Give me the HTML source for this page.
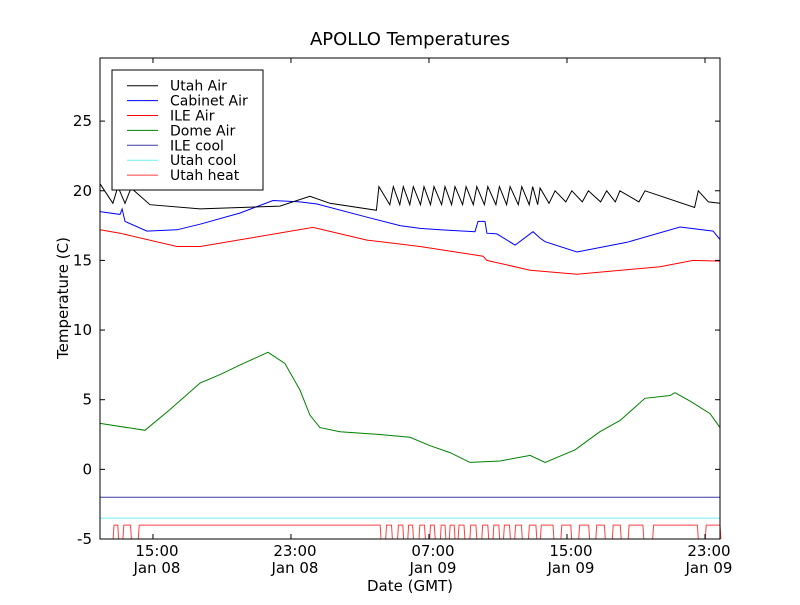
<!DOCTYPE html>
<html><head><meta charset="utf-8"><style>
body{margin:0;background:#fff}
text{font-family:"DejaVu Sans","Liberation Sans",sans-serif}
</style></head><body>
<svg id="chart" width="800" height="600" xmlns="http://www.w3.org/2000/svg">
<rect width="800" height="600" fill="#fff"/>
<text x="410" y="45" font-size="18" text-anchor="middle">APOLLO Temperatures</text>
<text x="410" y="591" font-size="15" text-anchor="middle">Date (GMT)</text>
<text transform="translate(68,298) rotate(-90)" font-size="15" text-anchor="middle">Temperature (C)</text>
<g id="plot"></g>
<rect x="100" y="58" width="620" height="481" fill="none" stroke="#000" stroke-width="1"/>
<g id="axes"></g>
<g id="legend"></g>
</svg>
<script>
const yTicks=[25,20,15,10,5,0,-5];
const xTickHours=[15,23,31,39,47];
const xTickTimes=["15:00","23:00","07:00","15:00","23:00"];
const xTickDates=["Jan 08","Jan 08","Jan 09","Jan 09","Jan 09"];
const utahAirH=[11.93,12.68,12.97,13.38,13.73,14.83,17.73,22.36,24.10,25.26,27.95,28.1,28.73,28.93,29.31,29.51,29.89,30.09,30.51,30.71,31.09,31.29,31.73,31.93,32.31,32.51,32.95,33.15,33.57,33.77,34.21,34.41,34.88,35.08,35.5,35.7,36.18,36.38,36.81,37.01,37.3,37.44,37.96,38.31,38.93,39.28,39.89,40.24,40.95,41.30,41.8,42.07,43.17,43.52,46.4,46.61,47.2,47.87];
const utahAirV=[20.5,19.1,20.3,19.1,20.2,19.0,18.7,18.9,19.6,19.1,18.6,20.3,19.0,20.3,19.0,20.3,19.0,20.3,19.0,20.3,19.0,20.3,19.0,20.3,19.0,20.3,19.0,20.3,19.0,20.3,19.0,20.3,19.0,20.3,19.0,20.3,19.0,20.3,19.0,20.3,19.0,20.2,19.1,20.0,19.2,20.0,19.2,20.0,19.2,20.0,19.2,20.0,19.2,20.0,18.8,20.0,19.2,19.1];
const cabinetH=[11.93,13.09,13.21,13.38,14.65,16.39,17.73,20.05,21.96,23.52,24.51,27.41,29.32,30.48,31.64,33.67,33.84,34.25,34.36,34.94,35.99,37.03,37.44,37.73,39.58,42.48,45.55,47.47,47.87];
const cabinetV=[18.5,18.3,18.7,17.8,17.1,17.2,17.6,18.4,19.3,19.2,19.05,18.1,17.5,17.3,17.2,17.06,17.8,17.8,16.95,16.9,16.1,17.06,16.6,16.34,15.6,16.3,17.4,17.1,16.5];
const ileAirH=[11.93,13.09,16.39,17.73,24.28,27.41,30.48,34.13,34.36,36.86,39.58,44.39,46.31,47.87];
const ileAirV=[17.2,16.95,16.0,16.0,17.37,16.46,16.0,15.3,15.0,14.3,14.0,14.55,15.0,14.95];
const domeH=[11.93,14.54,15.99,17.73,18.89,20.05,21.67,22.65,23.52,24.10,24.68,25.84,28.16,29.90,31.06,32.22,33.38,35.12,36.86,37.73,39.47,40.91,42.07,43.52,44.97,45.26,46.13,47.29,47.87];
const domeV=[3.3,2.8,4.3,6.2,6.8,7.5,8.4,7.6,5.7,3.9,3.0,2.7,2.5,2.3,1.7,1.2,0.5,0.6,1.0,0.5,1.4,2.7,3.5,5.1,5.3,5.5,4.9,4.0,3.0];
const ileCoolV=-2;
const utahCoolV=-3.5;
const heatOn=[12.69,13.26,14.15,28.49,29.18,29.77,30.42,31.04,31.66,32.18,32.69,33.37,34.06,34.71,35.32,35.97,36.77,37.46,38.65,39.68,40.67,41.63,42.55,43.97,47.02];
const heatOff=[12.96,13.70,28.17,28.83,29.48,30.05,30.74,31.31,31.93,32.46,33.03,33.72,34.41,35.05,35.67,36.36,37.20,38.19,39.22,40.26,41.17,42.09,43.4,46.56,47.87];
const heatHigh=-4, heatLow=-5;

const X0=100,X1=720,Y0=58,Y1=539,HMIN=11.93,HMAX=47.87,VMIN=-5,VMAX=29.53;
const xs=h=>X0+(h-HMIN)/(HMAX-HMIN)*(X1-X0);
const ys=v=>Y1-(v-VMIN)/(VMAX-VMIN)*(Y1-Y0);
const NS="http://www.w3.org/2000/svg";
const plot=document.getElementById('plot'),axes=document.getElementById('axes'),leg=document.getElementById('legend');
function mk(tag,attrs,parent){const e=document.createElementNS(NS,tag);for(const k in attrs)e.setAttribute(k,attrs[k]);parent.appendChild(e);return e;}
function line(H,V,color,name){const d=H.map((h,i)=>(i?'L':'M')+xs(h).toFixed(1)+','+ys(V[i]).toFixed(1)).join('');
 const p=mk('path',{d:d,fill:'none',stroke:color,'stroke-width':1},plot);
 
 }
line([HMIN,HMAX],[ileCoolV,ileCoolV],'#3a3aa8','ile-cool-line');
line([HMIN,HMAX],[utahCoolV,utahCoolV],'#6ff2f2','utah-cool-line');
let hh=[HMIN],hv=[heatLow];
for(let i=0;i<heatOn.length;i++){hh.push(heatOn[i],heatOn[i]+0.05,heatOff[i],heatOff[i]+0.05);hv.push(heatLow,heatHigh,heatHigh,heatLow);}
line(hh,hv,'#ff4040','utah-heat-line');
line(domeH,domeV,'#008000','dome-air-line');
line(ileAirH,ileAirV,'#ff0000','ile-air-line');
line(cabinetH,cabinetV,'#0000ff','cabinet-air-line');
line(utahAirH,utahAirV,'#000000','utah-air-line');
yTicks.forEach(v=>{const y=ys(v);
 const a=mk('line',{x1:X0,x2:X0+5,y1:y,y2:y,stroke:'#000'},axes);
 const b=mk('line',{x1:X1-5,x2:X1,y1:y,y2:y,stroke:'#000'},axes);
 const t=mk('text',{x:X0-8,y:y+5,'font-size':15,'text-anchor':'end'},axes);t.textContent=v;});
xTickHours.forEach((h,i)=>{const x=xs(h);
 const a=mk('line',{x1:x,x2:x,y1:Y1,y2:Y1-5,stroke:'#000'},axes);
 const b=mk('line',{x1:x,x2:x,y1:Y0,y2:Y0+5,stroke:'#000'},axes);
 const t=mk('text',{x:x+4,y:Y1+17,'font-size':15,'text-anchor':'middle'},axes);t.textContent=xTickTimes[i];
 const t2=mk('text',{x:x+4,y:Y1+34,'font-size':15,'text-anchor':'middle'},axes);t2.textContent=xTickDates[i];});
const lr=mk('rect',{x:112,y:70,width:151,height:120,fill:'#fff',stroke:'#000','stroke-width':1},leg);

const legNames=["Utah Air","Cabinet Air","ILE Air","Dome Air","ILE cool","Utah cool","Utah heat"];
const legColors=['#000000','#0000ff','#ff0000','#008000','#3a3aa8','#6ff2f2','#ff4040'];
legNames.forEach((n,i)=>{const y=85.7+i*14.9;
 const l=mk('line',{x1:127,x2:158,y1:y,y2:y,stroke:legColors[i]},leg);
 const t=mk('text',{x:170,y:y+5,'font-size':14},leg);t.textContent=n;});
</script>
</body></html>
